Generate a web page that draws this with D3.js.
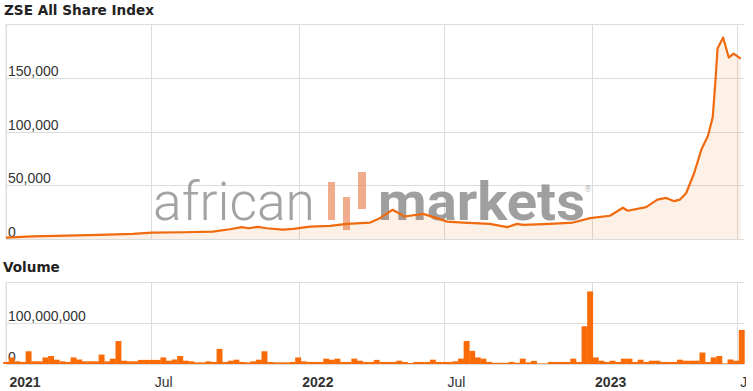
<!DOCTYPE html>
<html>
<head>
<meta charset="utf-8">
<script src="https://cdn.jsdelivr.net/npm/d3@7"></script>
<style>
  body { margin: 0; background: #fff; }
  svg { display: block; font-family: 'DejaVu Sans', Verdana, sans-serif; }
  .grid line { stroke: #dcdcdc; shape-rendering: crispEdges; }
  .grid path { display: none; }
  .tick-label { fill: #333; font-size: 14px; }
</style>
</head>
<body>
<div id="chart"></div>
<script>
// Index level
const indexDates = [
  '2021-01-01', '2021-02-03', '2021-03-18', '2021-04-28', '2021-06-08', '2021-07-02',
  '2021-08-10', '2021-09-16', '2021-10-07', '2021-10-22', '2021-10-30', '2021-11-11',
  '2021-11-22', '2021-12-12', '2021-12-25', '2022-01-15', '2022-02-09', '2022-03-02',
  '2022-03-31', '2022-04-12', '2022-04-28', '2022-05-13', '2022-06-05', '2022-06-22',
  '2022-07-05', '2022-07-25', '2022-08-27', '2022-09-18', '2022-09-30', '2022-10-08',
  '2022-11-10', '2022-12-09', '2022-12-30', '2023-01-24', '2023-02-09', '2023-02-15',
  '2023-03-10', '2023-03-24', '2023-04-04', '2023-04-14', '2023-04-21', '2023-04-29',
  '2023-05-09', '2023-05-18', '2023-05-26', '2023-06-01', '2023-06-04', '2023-06-07',
  '2023-06-14', '2023-06-21', '2023-06-27', '2023-07-06'
];
const indexValues = [
  1200, 2500, 3100, 3750, 4700, 5900,
  6300, 6800, 9100, 11000, 10000, 11250,
  10000, 8700, 9400, 11500, 12200, 14100,
  15300, 19400, 27200, 20900, 23400, 19400,
  16200, 15300, 14100, 11000, 14100, 13100,
  14100, 15300, 19400, 21600, 29100, 26300,
  29700, 36600, 38200, 35200, 36600, 42800,
  61600, 83400, 95900, 113200, 142800, 177200,
  187500, 168800, 172500, 167800
];

// Weekly volume in millions, first week starting 2021-01-01
const volumeStart = '2021-01-01';
const volumeMillions = [
  5, 16, 6.5, 5, 31, 6.5, 6.5, 16, 19.5, 10.5, 6.5, 5, 16, 11, 6.5, 6.5, 6.5, 23, 6.5, 13,
  56, 8, 6.5, 6.5, 10, 10, 10, 10, 16, 8, 11, 19.5, 8, 6.5, 4, 4, 6.5, 5, 37, 5,
  8, 10.5, 5, 4, 6.5, 10.5, 31, 5, 4, 4, 4, 5, 16, 6.5, 5, 5, 5, 13, 10.5, 13,
  5, 5, 13, 8, 5, 5, 10, 5, 5, 5, 8, 5, 2.5, 5, 5, 5, 10.5, 5, 5, 5,
  6.5, 13, 56, 32, 16, 13, 5, 3, 3, 3, 5, 3, 13, 4, 7.5, 1.5, 1.5, 5, 5, 5,
  5, 13, 5, 92, 177, 16, 8, 5, 8, 5, 13, 13, 5, 10.5, 5, 8, 8, 5, 5, 5,
  10.5, 8, 8, 8, 28, 5, 16, 19.5, 1.5, 11, 8, 83
];

const indexTicks = [0, 50000, 100000, 150000, 200000];
const volumeTicks = [0, 100000000, 200000000];
const dateTicks = ['2021-01-01', '2021-07-01', '2022-01-01', '2022-07-01', '2023-01-01', '2023-07-01'];
const dateTickLabels = ['2021', 'Jul', '2022', 'Jul', '2023', 'Jul'];

const parse = d3.timeParse('%Y-%m-%d');
const width = 753;
const height = 391;
const left = 6;
const right = 744;
const top1 = 24, bottom1 = 239;
const top2 = 282, bottom2 = 364;

const lineColor = '#f06a0f';
const barColor = '#f96b06';

const svg = d3.select('#chart')
  .append('svg')
  .attr('width', width)
  .attr('height', height);

const x = d3.scaleTime()
  .domain([parse('2021-01-01'), parse('2023-07-10')])
  .range([left, right]);

const yIndex = d3.scaleLinear().domain([0, 200000]).range([bottom1, top1]);
const yVol = d3.scaleLinear().domain([0, 200000000]).range([bottom2, top2]);

const tickDates = dateTicks.map(parse);
const indexData = indexDates.map((d, i) => ({ date: parse(d), value: indexValues[i] }));
const volData = volumeMillions.map((v, i) => ({
  date: d3.timeDay.offset(parse(volumeStart), i * 7),
  value: v * 1e6
}));

// Titles
svg.append('text')
  .attr('x', 4).attr('y', 15)
  .attr('font-size', 13.6).attr('font-weight', 'bold').attr('fill', '#222')
  .text('ZSE All Share Index');
svg.append('text')
  .attr('x', 3).attr('y', 272)
  .attr('font-size', 13.6).attr('font-weight', 'bold').attr('fill', '#222')
  .text('Volume');

function grid(y, ticks, top, bottom, fmt) {
  // vertical lines
  svg.append('g')
    .attr('class', 'grid')
    .attr('transform', `translate(0, ${bottom})`)
    .call(d3.axisBottom(x).tickValues(tickDates).tickSize(-(bottom - top)).tickFormat(''));
  svg.append('line')
    .attr('x1', left).attr('x2', left).attr('y1', top).attr('y2', bottom)
    .attr('stroke', '#dcdcdc');
  // horizontal lines + labels
  const g = svg.append('g')
    .attr('class', 'grid')
    .attr('transform', `translate(${left}, 0)`)
    .call(d3.axisRight(y).tickValues(ticks).tickSize(right - left)
      .tickFormat(d => d === ticks[ticks.length - 1] ? '' : fmt(d)));
  g.selectAll('text')
    .attr('class', 'tick-label')
    .attr('x', 2)
    .attr('dy', -2.5);
  g.selectAll('.tick').filter(d => d === 0).select('line')
    .attr('stroke', '#b4b4b4');
}

grid(yIndex, indexTicks, top1, bottom1, d3.format(','));
grid(yVol, volumeTicks, top2, bottom2, d3.format(','));

// Watermark
const wm = svg.append('g').attr('opacity', 0.82);
wm.append('text')
  .attr('x', 153).attr('y', 220)
  .attr('font-family', 'Roboto, Lato, sans-serif').attr('font-weight', 300)
  .attr('font-size', 54).attr('fill', '#909090')
  .attr('textLength', 162).attr('lengthAdjust', 'spacingAndGlyphs')
  .text('african');
wm.append('text')
  .attr('x', 378).attr('y', 220)
  .attr('font-family', 'Roboto, Lato, sans-serif').attr('font-weight', 'bold')
  .attr('font-size', 54).attr('fill', '#8a8a8a')
  .attr('textLength', 207).attr('lengthAdjust', 'spacingAndGlyphs')
  .text('markets');
wm.append('text')
  .attr('x', 584).attr('y', 192)
  .attr('font-size', 8).attr('fill', '#aaa')
  .text('®');
[[328, 182, 7, 38], [343, 197, 7, 33], [358, 172, 8, 37]].forEach(b => {
  wm.append('rect')
    .attr('x', b[0]).attr('y', b[1]).attr('width', b[2]).attr('height', b[3])
    .attr('fill', '#ef9a76');
});

// Index area + line
svg.append('path')
  .datum(indexData)
  .attr('fill', lineColor)
  .attr('fill-opacity', 0.1)
  .attr('d', d3.area()
    .x(d => x(d.date))
    .y0(yIndex(0))
    .y1(d => yIndex(d.value)));

svg.append('path')
  .datum(indexData)
  .attr('fill', 'none')
  .attr('stroke', lineColor)
  .attr('stroke-width', 2.2)
  .attr('stroke-linejoin', 'round')
  .attr('d', d3.line()
    .x(d => x(d.date))
    .y(d => yIndex(d.value)));

// Volume bars
const barW = x(parse('2021-01-08')) - x(parse('2021-01-01'));
svg.append('g')
  .selectAll('rect')
  .data(volData)
  .enter()
  .append('rect')
  .attr('x', d => x(d.date) - barW / 2)
  .attr('y', d => yVol(d.value))
  .attr('width', barW + 0.3)
  .attr('height', d => yVol(0) - yVol(d.value))
  .attr('fill', barColor);

// keep the value labels on top of the bars
svg.selectAll('.grid .tick text').each(function () { d3.select(this.parentNode).raise(); });

// Date labels, the last one is cut at the chart edge like the original
svg.append('clipPath').attr('id', 'labclip')
  .append('rect').attr('x', 0).attr('y', 0).attr('width', 746).attr('height', height);

const xAxis = svg.append('g')
  .attr('clip-path', 'url(#labclip)')
  .append('g')
  .attr('transform', 'translate(0, 387)')
  .call(d3.axisBottom(x).tickValues(tickDates).tickSize(0)
    .tickFormat((d, i) => dateTickLabels[i]));
xAxis.select('.domain').remove();
xAxis.selectAll('text')
  .attr('class', 'tick-label')
  .attr('text-anchor', 'start')
  .attr('x', 3)
  .attr('y', 0)
  .attr('dy', 0)
  .attr('font-weight', (d, i) => dateTickLabels[i] === 'Jul' ? 'normal' : 'bold');
</script>
</body>
</html>
